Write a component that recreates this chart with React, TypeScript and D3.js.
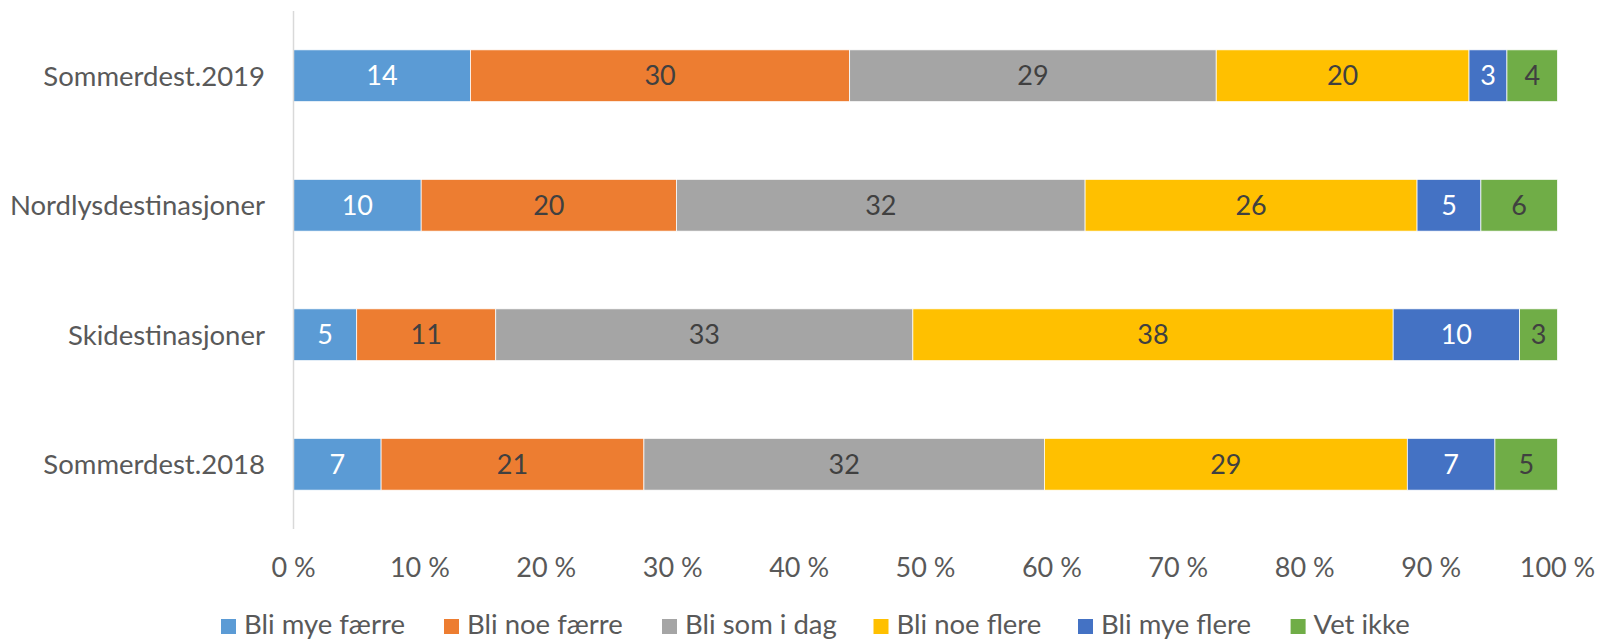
import React from "react";
import * as d3 from "d3";

const categories = ["Sommerdest.2019", "Nordlysdestinasjoner", "Skidestinasjoner", "Sommerdest.2018"];
const seriesNames = ["Bli mye færre", "Bli noe færre", "Bli som i dag", "Bli noe flere", "Bli mye flere", "Vet ikke"];
const bliMyeFaerre = [14, 10, 5, 7];
const bliNoeFaerre = [30, 20, 11, 21];
const bliSomIDag = [29, 32, 33, 32];
const bliNoeFlere = [20, 26, 38, 29];
const bliMyeFlere = [3, 5, 10, 7];
const vetIkke = [4, 6, 3, 5];
const tickValues = [0, 0.1, 0.2, 0.3, 0.4, 0.5, 0.6, 0.7, 0.8, 0.9, 1.0];
const colors = ["#5B9BD5", "#ED7D31", "#A5A5A5", "#FFC000", "#4472C4", "#70AD47"];
const labelColors = ["#FFFFFF", "#404040", "#404040", "#404040", "#FFFFFF", "#404040"];

const W = 1598;
const H = 639;
const FONT = "Lato, 'Open Sans', sans-serif";

export default function App() {
  React.useEffect(() => {
    document.body.style.margin = "0";
  }, []);

  const seriesValues = [bliMyeFaerre, bliNoeFaerre, bliSomIDag, bliNoeFlere, bliMyeFlere, vetIkke];
  const rows = categories.map((c, i) => {
    const r: any = { cat: c };
    seriesNames.forEach((s, j) => (r[s] = seriesValues[j][i]));
    return r;
  });
  const stacked = d3.stack<any>().keys(seriesNames).offset(d3.stackOffsetExpand)(rows);

  const x = d3.scaleLinear().domain([0, 1]).range([293.5, 1557.5]);
  const y = d3.scaleBand<string>().domain(categories).range([11, 529]).paddingInner(0.6).paddingOuter(0.3);
  const fmt = (v: number) => `${Math.round(v * 100)} %`;

  const legendX = [221, 444, 662, 873.5, 1078, 1290.6];

  return (
    <svg width={W} height={H} style={{ display: "block", position: "absolute", left: 0, top: 0 }} fontFamily={FONT}>
      <rect width={W} height={H} fill="#fff" />
      {stacked.map((layer, j) => (
        <g key={layer.key}>
          {layer.map((d, i) => {
            const x0 = x(d[0]);
            const x1 = x(d[1]);
            const yy = y(categories[i])!;
            return (
              <g key={i}>
                <rect x={x0} y={yy} width={x1 - x0} height={y.bandwidth()} fill={colors[j]} stroke="#fff" strokeWidth={0.75} />
                <text x={(x0 + x1) / 2} y={yy + y.bandwidth() / 2} dy="0.36em" textAnchor="middle" fontSize={27} fill={labelColors[j]}>
                  {seriesValues[j][i]}
                </text>
              </g>
            );
          })}
        </g>
      ))}
      <line x1={x(0)} x2={x(0)} y1={11} y2={529} stroke="#D9D9D9" strokeWidth={1.5} />
      {categories.map((c) => (
        <text key={c} x={265} y={y(c)! + y.bandwidth() / 2} dy="0.36em" textAnchor="end" fontSize={27.5} fill="#595959">
          {c}
        </text>
      ))}
      {tickValues.map((t) => (
        <text key={t} x={x(t)} y={577} textAnchor="middle" fontSize={27} fill="#595959">
          {fmt(t)}
        </text>
      ))}
      {seriesNames.map((s, j) => (
        <g key={s}>
          <rect x={legendX[j]} y={619} width={15} height={15} fill={colors[j]} />
          <text x={legendX[j] + 23} y={634} fontSize={27.5} fill="#595959">
            {s}
          </text>
        </g>
      ))}
    </svg>
  );
}
